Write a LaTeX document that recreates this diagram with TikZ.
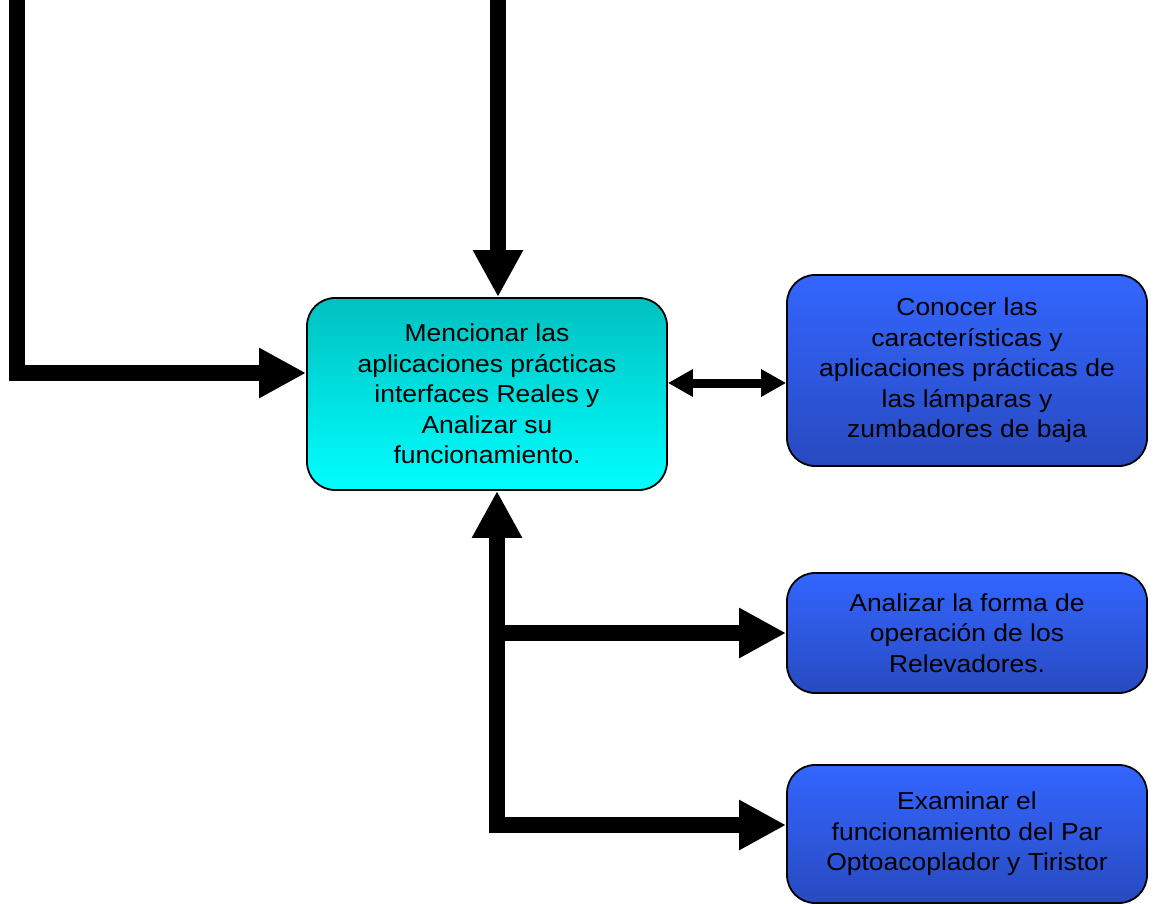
\documentclass[tikz,border=0pt]{standalone}
\usepackage{fontspec}
\setmainfont{Liberation Sans}
\newfontfamily\boxfont[FakeStretch=1.08]{Liberation Sans}
\usetikzlibrary{arrows.meta}
\definecolor{cyantop}{RGB}{0,192,192}
\definecolor{cyanbot}{RGB}{0,255,255}
\definecolor{bluetop}{RGB}{51,102,255}
\definecolor{bluebot}{RGB}{40,74,192}
\begin{document}
\begin{tikzpicture}[x=1pt,y=-1pt,
  box/.style={draw=black, line width=1.8pt, rounded corners=28pt, inner sep=0pt,
    minimum width=360pt, align=center,
    font=\boxfont\fontsize{24.5}{30.5}\selectfont},
  cyanbox/.style={box, top color=cyantop, bottom color=cyanbot},
  bluebox/.style={box, top color=bluetop, bottom color=bluebot},
  fat/.style={line width=16pt, line join=miter, draw=black,
    -{Triangle[length=47pt,width=47pt]}},
  fatboth/.style={line width=16pt, line join=miter, draw=black,
    {Triangle[length=47pt,width=47pt]}-{Triangle[length=47pt,width=47pt]}},
  thin2/.style={line width=9pt, draw=black,
    {Triangle[length=25pt,width=26pt]}-{Triangle[length=25pt,width=26pt]}}
]
\useasboundingbox (0,0) rectangle (1161,904);

\node[cyanbox, minimum height=192pt] (c) at (487,394)
  {Mencionar las\\aplicaciones prácticas\\interfaces Reales y\\Analizar su\\funcionamiento.};
\node[bluebox, minimum height=191pt] (b1) at (967,370.5)
  {Conocer las\\características y\\aplicaciones prácticas de\\las lámparas y\\zumbadores de baja};
\node[bluebox, minimum height=120pt] (b2) at (967,633)
  {Analizar la forma de\\operación de los\\Relevadores.};
\node[bluebox, minimum height=138pt] (b3) at (967,834)
  {Examinar el\\funcionamiento del Par\\Optoacoplador y Tiristor};

% left feed
\coordinate (lt) at (17,0);
\coordinate (lc) at (17,373);
\draw[fat] (lt) -- (lc) -- (c.west |- lc);

% top feed
\coordinate (tt) at (498,0);
\draw[fat] (tt) -- (c.north -| tt);

% double arrow
\coordinate (dm) at (727,383);
\draw[thin2] (c.east |- dm) -- (b1.west |- dm);

% bottom branch
\coordinate (bv) at (497,825);
\coordinate (bm) at (489,633);
\draw[fatboth] (c.south -| bv) -- (bv) -- (b3.west |- bv);
\draw[fat] (bm) -- (b2.west |- bm);
\end{tikzpicture}
\end{document}
